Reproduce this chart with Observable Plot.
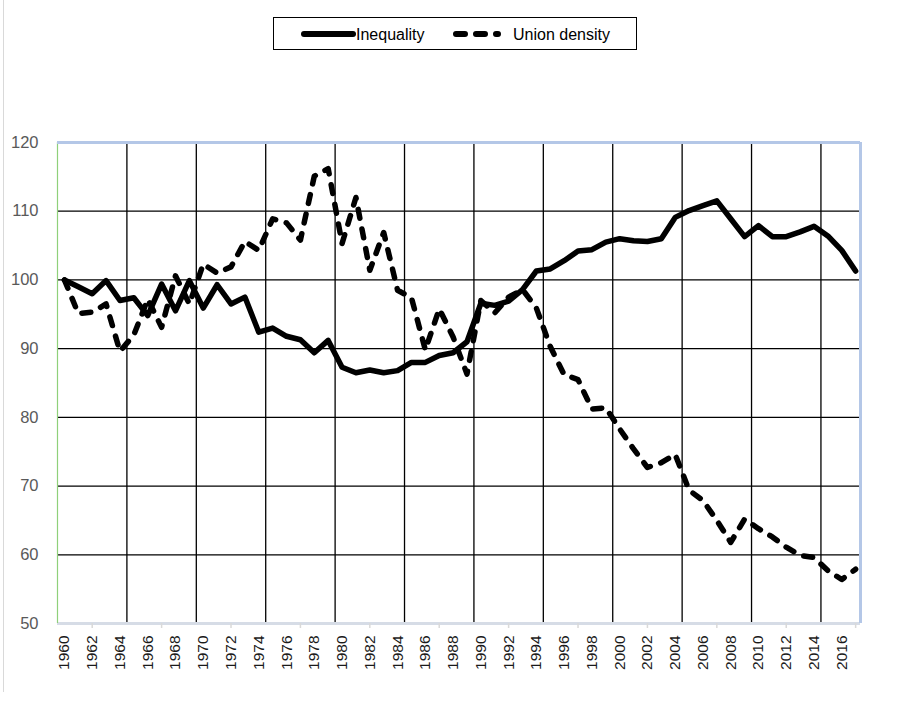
<!DOCTYPE html>
<html><head><meta charset="utf-8">
<script src="https://cdn.jsdelivr.net/npm/d3@7"></script>
<script src="https://cdn.jsdelivr.net/npm/@observablehq/plot@0.6"></script>
<style>
body{margin:0;background:#fff;}
#wrap{position:relative;width:897px;height:701px;overflow:hidden;background:#fff;}
#edge{position:absolute;left:3px;top:0;width:1px;height:692px;background:#d9d9d9;}
#legend{position:absolute;left:273px;top:17px;width:362px;height:31px;border:1px solid #000;font-family:"Liberation Sans",Arial,sans-serif;font-size:16px;}
#chart{position:absolute;left:0;top:60px;}
</style></head><body>
<div id="wrap">
  <div id="edge"></div>
  <div id="legend"></div>
  <div id="chart"></div>
</div>
<script>
const years = [1960,1961,1962,1963,1964,1965,1966,1967,1968,1969,1970,1971,1972,1973,1974,1975,1976,1977,1978,1979,1980,1981,1982,1983,1984,1985,1986,1987,1988,1989,1990,1991,1992,1993,1994,1995,1996,1997,1998,1999,2000,2001,2002,2003,2004,2005,2006,2007,2008,2009,2010,2011,2012,2013,2014,2015,2016,2017];
const inequality = [100.0,99.0,98.0,99.9,97.0,97.4,94.8,99.4,95.5,99.9,95.9,99.3,96.5,97.5,92.4,93.0,91.8,91.3,89.4,91.2,87.3,86.5,86.9,86.5,86.8,88.0,88.0,89.0,89.4,91.0,96.6,96.3,96.9,98.6,101.3,101.6,102.8,104.2,104.4,105.5,106.0,105.7,105.6,106.0,109.1,110.1,110.8,111.5,108.9,106.3,107.9,106.3,106.3,107.0,107.8,106.4,104.3,101.3];
const unionDensity = [100.0,95.1,95.3,96.5,89.6,92.0,97.2,93.1,100.6,96.5,102.3,101.0,101.9,105.6,104.3,108.9,108.3,105.8,115.1,116.2,105.3,112.0,101.4,106.9,98.5,97.4,89.8,95.8,91.7,86.3,97.0,95.2,97.5,98.6,95.9,90.3,86.2,85.5,81.2,81.4,78.3,75.4,72.7,73.4,74.6,69.4,67.9,65.0,61.8,65.2,63.8,62.6,61.1,59.9,59.6,57.7,56.4,57.9];
const seriesNames = ["Inequality", "Union density"];
const xTickLabels = [1960,1962,1964,1966,1968,1970,1972,1974,1976,1978,1980,1982,1984,1986,1988,1990,1992,1994,1996,1998,2000,2002,2004,2006,2008,2010,2012,2014,2016];
const xMinorTicks = [1962,1967,1972,1977,1982,1987,1992,1997,2002,2007,2012,2017];
const xGrid = [1964.5,1969.5,1974.5,1979.5,1984.5,1989.5,1994.5,1999.5,2004.5,2009.5,2014.5];
const yTicks = [50,60,70,80,90,100,110,120];
const yGrid = [60,70,80,90,100,110];
const xDomain = [1959.5, 2017.35];
const yDomain = [50, 120];

const ineqData = years.map((y,i)=>({year:y, value:inequality[i]}));
const unionData = years.map((y,i)=>({year:y, value:unionDensity[i]}));

const dash = "9,11";
const plot = Plot.plot({
  width: 897,
  height: 641,
  marginLeft: 57,
  marginRight: 37,
  marginTop: 82,
  marginBottom: 78,
  style: {fontFamily: "'Liberation Sans', Arial, sans-serif", background: "transparent"},
  x: {type: "linear", domain: xDomain, label: null},
  y: {domain: yDomain, label: null},
  marks: [
    Plot.ruleX(xGrid, {stroke: "#000", strokeWidth: 1.3}),
    Plot.ruleY(yGrid, {stroke: "#000", strokeWidth: 1.3}),
    Plot.ruleY([yDomain[0]], {stroke: "#d6dce6", strokeWidth: 3}),
    Plot.ruleX([xDomain[0]], {stroke: "#8fd07a", strokeWidth: 1.2}),
    Plot.ruleY([yDomain[1]], {stroke: "#b4c7e7", strokeWidth: 3}),
    Plot.ruleX([xDomain[1]], {stroke: "#b4c7e7", strokeWidth: 3}),
    Plot.axisX({ticks: xMinorTicks, tickFormat: () => "", tickSize: 5, stroke: "#d9d9d9", strokeWidth: 1.5, label: null}),
    Plot.axisX({ticks: xTickLabels, tickFormat: d => String(d), tickSize: 0, tickPadding: 12, tickRotate: -90, fontSize: 15.5, fill: "#1a1a1a", label: null}),
    Plot.axisY({ticks: yTicks, tickFormat: d => String(d), tickSize: 0, tickPadding: 19, fontSize: 16.5, fill: "#595959", label: null}),
    Plot.line(ineqData, {x: "year", y: "value", stroke: "#000", strokeWidth: 5.5, strokeLinejoin: "round", strokeLinecap: "round"}),
    Plot.line(unionData, {x: "year", y: "value", stroke: "#000", strokeWidth: 5.5, strokeLinejoin: "round", strokeLinecap: "round", strokeDasharray: dash})
  ]
});
document.getElementById("chart").appendChild(plot);

const leg = document.getElementById("legend");
leg.innerHTML = `<svg width="362" height="31" style="display:block">
  <line x1="30" x2="79" y1="16" y2="16" stroke="#000" stroke-width="6" stroke-linecap="round"/>
  <text x="82" y="21.5" font-family="'Liberation Sans',Arial,sans-serif" font-size="16" fill="#000">${seriesNames[0]}</text>
  <line x1="182" x2="224" y1="16" y2="16" stroke="#000" stroke-width="6" stroke-linecap="round" stroke-dasharray="${dash}"/>
  <text x="239" y="21.5" font-family="'Liberation Sans',Arial,sans-serif" font-size="16" fill="#000">${seriesNames[1]}</text>
</svg>`;
</script>
</body></html>
